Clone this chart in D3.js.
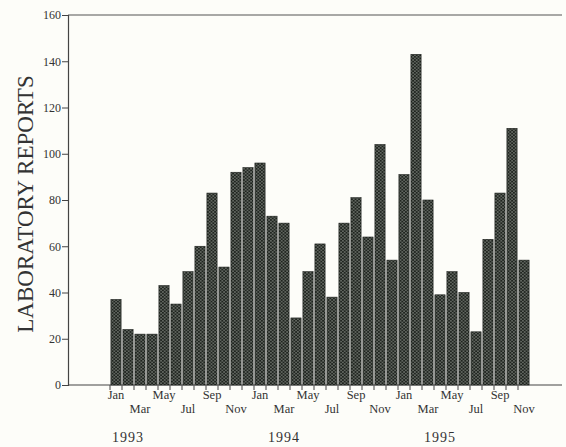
<!DOCTYPE html>
<html>
<head>
<meta charset="utf-8">
<script src="https://cdn.jsdelivr.net/npm/d3@7"></script>
<style>
  body { margin: 0; background: #fdfdf9; }
  svg text { font-family: "Liberation Serif", "DejaVu Serif", serif; fill: #333; }
</style>
</head>
<body>
<div class="canvas"></div>
<script>

// data
var months = ['Jan','Feb','Mar','Apr','May','Jun','Jul','Aug','Sep','Oct','Nov','Dec'];
var years = ['1993','1994','1995'];
var values = [37,24,22,22,43,35,49,60,83,51,92,94,
              96,73,70,29,49,61,38,70,81,64,104,54,
              91,143,80,39,49,40,23,63,83,111,54];
var yTicks = [0,20,40,60,80,100,120,140,160];
var yearLabelAt = [1,14,27];

var W = 566, H = 447;
var margin = {t:15, l:68, b:62, r:4};

var svg = d3.select('.canvas')
    .append('svg')
    .attr('width',W)
    .attr('height',H);

// stipple fill
var defs = svg.append('defs');
var pat = defs.append('pattern')
    .attr('id','dots')
    .attr('patternUnits','userSpaceOnUse')
    .attr('width',3.6).attr('height',3.2);
pat.append('rect').attr('width',3.6).attr('height',3.2).attr('fill','#1f241f');
pat.append('circle').attr('cx',0.9).attr('cy',0.8).attr('r',0.62).attr('fill','#d6dad2');
pat.append('circle').attr('cx',2.7).attr('cy',2.4).attr('r',0.62).attr('fill','#d6dad2');

var y = d3.scaleLinear().domain([0,160]).range([H-margin.b, margin.t]);
var x = d3.scaleBand().domain(d3.range(values.length)).range([110,530]).padding(0);

// frame lines
svg.append('line')
    .attr('x1',margin.l).attr('x2',W-margin.r)
    .attr('y1',y(160)).attr('y2',y(160))
    .attr('stroke','#555').attr('stroke-width',1.2);
svg.append('line')
    .attr('x1',margin.l).attr('x2',W-margin.r)
    .attr('y1',y(0)).attr('y2',y(0))
    .attr('stroke','#444').attr('stroke-width',1.2);

// bars
svg.selectAll('.bar')
    .data(values)
    .enter().append('rect')
    .attr('class','bar')
    .attr('x',function(d,i){ return x(i)+0.9; })
    .attr('y',function(d){ return y(d); })
    .attr('width',x.bandwidth()-1.8)
    .attr('height',function(d){ return y(0)-y(d); })
    .attr('fill','url(#dots)')
    .attr('stroke','#1c1f1c')
    .attr('stroke-width',0.6);

// y axis
var yAxis = svg.append('g')
    .attr('transform','translate('+margin.l+',0)')
    .call(d3.axisLeft(y).tickValues(yTicks).tickSize(6).tickPadding(1));
yAxis.attr('font-family',null);
yAxis.select('.domain').attr('stroke','#444').attr('stroke-width',1.2);
yAxis.selectAll('.tick line').attr('stroke','#444');
yAxis.selectAll('.tick text').attr('font-size','12px').attr('fill','#333');

// x ticks at bar edges
svg.selectAll('.xtick')
    .data(values)
    .enter().append('line')
    .attr('class','xtick')
    .attr('x1',function(d,i){ return x(i); })
    .attr('x2',function(d,i){ return x(i); })
    .attr('y1',y(0)).attr('y2',y(0)+5)
    .attr('stroke','#444');

// month labels, every second month, two rows
svg.selectAll('.mlab')
    .data(values.map(function(d,i){ return i; }).filter(function(i){ return i%2==0; }))
    .enter().append('text')
    .attr('class','mlab')
    .attr('x',function(i){ return x(i)+x.bandwidth()/2; })
    .attr('y',function(i){ return (i%4==0) ? 399 : 413; })
    .attr('text-anchor','middle')
    .attr('font-size','12.5px')
    .text(function(i){ return months[i%12]; });

// years
svg.selectAll('.ylab')
    .data(years)
    .enter().append('text')
    .attr('class','ylab')
    .attr('x',function(d,i){ return x(yearLabelAt[i])+x.bandwidth()/2; })
    .attr('y',442)
    .attr('text-anchor','middle')
    .attr('font-size','14px')
    .attr('letter-spacing','1px')
    .text(function(d){ return d; });

// y title
svg.append('text')
    .attr('transform','translate(33,204) rotate(-90)')
    .attr('text-anchor','middle')
    .attr('font-size','23px')
    .attr('fill','#333')
    .text('LABORATORY REPORTS');

</script>
</body>
</html>
